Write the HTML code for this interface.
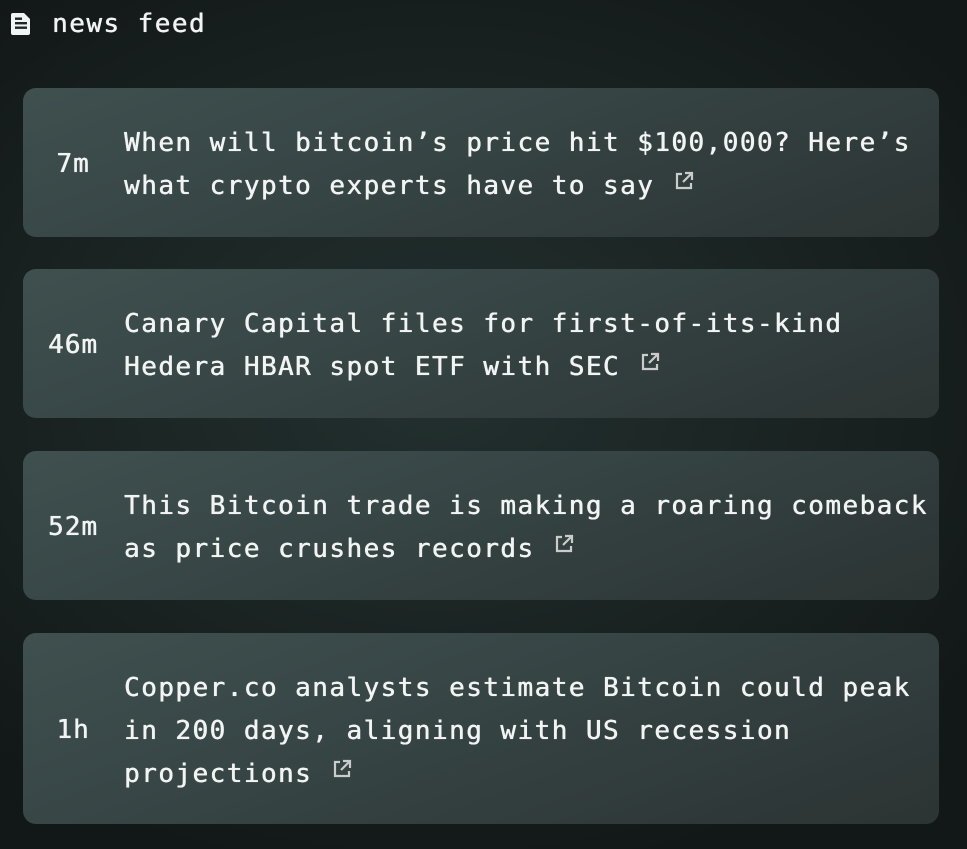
<!DOCTYPE html>
<html><head><meta charset="utf-8">
<style>
html,body{margin:0;padding:0;}
body{width:967px;height:849px;overflow:hidden;position:relative;
background:radial-gradient(ellipse 70% 60% at 45% 45%, #22302f 0%, #1a2322 55%, #121717 100%);
font-family:"DejaVu Sans Mono","Liberation Mono",monospace;color:#f2f4f3;}
.hdr{position:absolute;left:10px;top:6px;height:36px;display:flex;align-items:center;font-size:26px;letter-spacing:1.45px;text-shadow:0.4px 0 0 #f2f4f3,0 0 0.6px #f2f4f3;}
.hdr svg{margin-right:20px}
.card{position:absolute;left:23px;width:916px;border-radius:13px;
background:linear-gradient(160deg,#3f504f 0%,#364444 45%,#2c3333 100%);}
.time{position:absolute;left:0;width:100px;text-align:center;font-size:26px;letter-spacing:1px;text-shadow:0.4px 0 0 #f2f4f3,0 0 0.6px #f2f4f3;}
.txt{position:absolute;left:101px;top:34px;font-size:26px;letter-spacing:1.45px;line-height:43px;white-space:nowrap;text-shadow:0.4px 0 0 #f2f4f3,0 0 0.6px #f2f4f3;}
.lk{display:inline-block;vertical-align:3px;margin-left:20px}
</style></head><body>
<div class="hdr">
<svg width="22" height="24" viewBox="0 0 22 24"><path d="M3 1h11l6 6v14a2 2 0 0 1-2 2H3a2 2 0 0 1-2-2V3a2 2 0 0 1 2-2z" fill="#f2f4f3"/><rect x="5" y="10" width="12" height="2.4" fill="#1c2625"/><rect x="5" y="14.5" width="12" height="2.4" fill="#1c2625"/><rect x="5" y="5.5" width="7" height="2.4" fill="#1c2625"/></svg>
<span>news feed</span></div>

<div class="card" style="top:88px;height:149px">
<div class="time" style="top:61px">7m</div>
<div class="txt">When will bitcoin’s price hit $100,000? Here’s<br>what crypto experts have to say<svg class="lk" width="20" height="20" viewBox="0 0 20 20"><path d="M8 3H3v14h14v-5" fill="none" stroke="#c9cccb" stroke-width="2.2"/><path d="M11 2h7v7M18 2l-9 9" fill="none" stroke="#c9cccb" stroke-width="2.2"/></svg></div></div>

<div class="card" style="top:269px;height:149px">
<div class="time" style="top:61px">46m</div>
<div class="txt">Canary Capital files for first-of-its-kind<br>Hedera HBAR spot ETF with SEC<svg class="lk" width="20" height="20" viewBox="0 0 20 20"><path d="M8 3H3v14h14v-5" fill="none" stroke="#c9cccb" stroke-width="2.2"/><path d="M11 2h7v7M18 2l-9 9" fill="none" stroke="#c9cccb" stroke-width="2.2"/></svg></div></div>

<div class="card" style="top:451px;height:149px">
<div class="time" style="top:61px">52m</div>
<div class="txt">This Bitcoin trade is making a roaring comeback<br>as price crushes records<svg class="lk" width="20" height="20" viewBox="0 0 20 20"><path d="M8 3H3v14h14v-5" fill="none" stroke="#c9cccb" stroke-width="2.2"/><path d="M11 2h7v7M18 2l-9 9" fill="none" stroke="#c9cccb" stroke-width="2.2"/></svg></div></div>

<div class="card" style="top:633px;height:191px">
<div class="time" style="top:82px">1h</div>
<div class="txt">Copper.co analysts estimate Bitcoin could peak<br>in 200 days, aligning with US recession<br>projections<svg class="lk" width="20" height="20" viewBox="0 0 20 20"><path d="M8 3H3v14h14v-5" fill="none" stroke="#c9cccb" stroke-width="2.2"/><path d="M11 2h7v7M18 2l-9 9" fill="none" stroke="#c9cccb" stroke-width="2.2"/></svg></div></div>
</body></html>
